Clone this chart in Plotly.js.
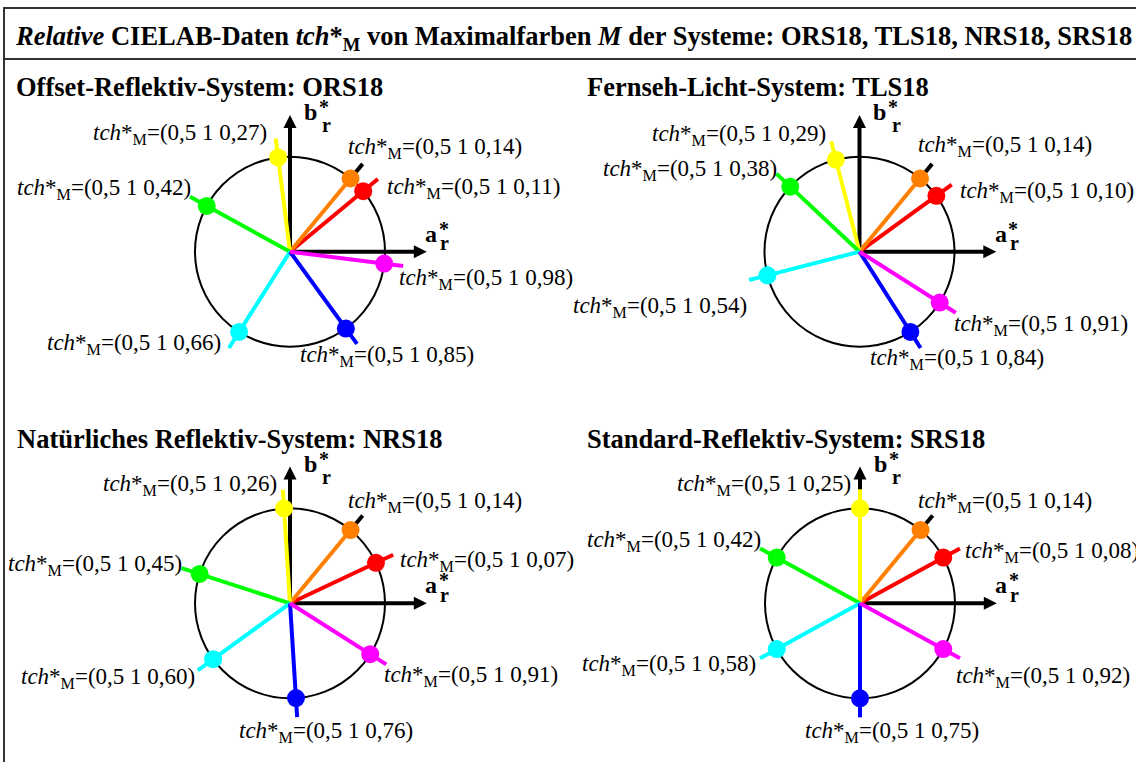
<!DOCTYPE html>
<html><head><meta charset="utf-8">
<script src="https://cdn.plot.ly/plotly-3.0.1.min.js"></script>
<style>html,body{margin:0;padding:0;background:#fff;} #chart{width:1136px;height:762px;}</style>
</head><body><div id="chart"></div>
<script>
// ---------------- data ----------------
const systems = ['ORS18', 'TLS18', 'NRS18', 'SRS18'];
const panelTitles = ['Offset-Reflektiv-System: ORS18', 'Fernseh-Licht-System: TLS18',
                     'Natürliches Reflektiv-System: NRS18', 'Standard-Reflektiv-System: SRS18'];
const colorNames = ['R', 'O', 'Y', 'G', 'C', 'B', 'M'];
const relLightness = 0.5;   // t*
const relChroma = 1;        // c*
const hueORS18 = [0.11, 0.14, 0.27, 0.42, 0.66, 0.85, 0.98];
const hueTLS18 = [0.10, 0.14, 0.29, 0.38, 0.54, 0.84, 0.91];
const hueNRS18 = [0.07, 0.14, 0.26, 0.45, 0.60, 0.76, 0.91];
const hueSRS18 = [0.08, 0.14, 0.25, 0.42, 0.58, 0.75, 0.92];
const hues = [hueORS18, hueTLS18, hueNRS18, hueSRS18];
const mainTitle = '<b><i>Relative</i> CIELAB-Daten <i>tch</i>*<sub>M</sub> von Maximalfarben <i>M</i> der Systeme: ORS18, TLS18, NRS18, SRS18</b>';

// ---------------- styles / layout constants ----------------
const lineColors = ['#ff0000', '#ff8000', '#ffff00', '#00ff00', '#00ffff', '#0000ff', '#ff00ff'];
const tipColors  = [null, '#000000', null, null, null, null, null];
const FONT = 'Liberation Serif';
const W = 1136, H = 762;
const SCALE = 95;                 // px per chroma unit
const LINE_R = 1.2, AXIS_R = 1.44;
const centers = [[290, 251.7], [859.5, 251.7], [290, 603.3], [860, 603.3]];
const boxes = [[8, 566, 98, 420], [570, 1134, 98, 420], [8, 566, 450, 760], [570, 1134, 450, 760]];
const titlePos = [[14, 87.5], [585, 87.5], [15, 438.5], [585, 438.5]];
// label placement relative to line end: [xanchor, dx px, dy px (down)]
const labelPlace = [
  [['left',7,7],['left',-17,-17],['right',-7,-6],['right',3,-9],['right',-6,-5],['left',-59,11],['left',-6,11.5]],
  [['left',6,6],['left',-16,-19],['right',-3,-8],['right',3,-5],['right',0,25],['left',-53,10],['left',-3.5,11]],
  [['left',5,4.5],['left',-17,-15.4],['right',-3.5,-6],['right',2.4,-5],['right',-1,6],['left',-60,13],['left',-4.5,10.6]],
  [['left',3.4,2.4],['left',-17,-15.4],['right',-7,-6],['right',3,-8.4],['right',-2,5],['left',-57,13],['left',-6,17]]
];
const LABEL_SIZE = 23;
const LABEL_DY = 1.5;   // global vertical correction (px, down)

function dec(v, n) { return (n === undefined ? String(v) : v.toFixed(n)).replace('.', ','); }

const traces = [];
const shapes = [];
const annotations = [];
const layout = {
  width: W, height: H, autosize: false,
  margin: {l: 0, r: 0, t: 0, b: 0},
  paper_bgcolor: '#ffffff', plot_bgcolor: 'rgba(0,0,0,0)',
  showlegend: false,
  font: {family: FONT, color: '#000'}
};

hues.forEach((hueArr, p) => {
  const sfx = p === 0 ? '' : String(p + 1);
  const xa = 'x' + sfx, ya = 'y' + sfx;
  const [cx, cy] = centers[p];
  const [x0, x1, y0, y1] = boxes[p];
  layout['xaxis' + sfx] = {domain: [x0 / W, x1 / W], range: [(x0 - cx) / SCALE, (x1 - cx) / SCALE],
    visible: false, fixedrange: true, anchor: ya};
  layout['yaxis' + sfx] = {domain: [1 - y1 / H, 1 - y0 / H], range: [(cy - y1) / SCALE, (cy - y0) / SCALE],
    visible: false, fixedrange: true, anchor: xa};

  // chroma circle c* = 1
  shapes.push({type: 'circle', xref: xa, yref: ya, x0: -relChroma, x1: relChroma, y0: -relChroma, y1: relChroma,
    line: {color: '#000', width: 2}, layer: 'below'});

  // axes a*r, b*r
  const shaft = AXIS_R - 0.06;
  traces.push({type: 'scatter', mode: 'lines', xaxis: xa, yaxis: ya, hoverinfo: 'skip',
    x: [0, shaft, null, 0, 0], y: [0, 0, null, 0, shaft], line: {color: '#000', width: 4}});
  traces.push({type: 'scatter', mode: 'markers', xaxis: xa, yaxis: ya, hoverinfo: 'skip',
    x: [AXIS_R, 0], y: [0, AXIS_R],
    marker: {symbol: ['arrow-right', 'arrow-up'], size: 13, color: '#000', line: {width: 0}}});

  // hue lines
  hueArr.forEach((h, i) => {
    const ang = 2 * Math.PI * h;
    const c = Math.cos(ang), s = Math.sin(ang);
    const rEnd = tipColors[i] ? relChroma : LINE_R;
    traces.push({type: 'scatter', mode: 'lines', xaxis: xa, yaxis: ya, hoverinfo: 'skip',
      x: [0, rEnd * c], y: [0, rEnd * s], line: {color: lineColors[i], width: 4}});
    if (tipColors[i]) {
      traces.push({type: 'scatter', mode: 'lines', xaxis: xa, yaxis: ya, hoverinfo: 'skip',
        x: [relChroma * c, LINE_R * c], y: [relChroma * s, LINE_R * s], line: {color: tipColors[i], width: 4}});
    }
    const [anc, dx, dy] = labelPlace[p][i];
    annotations.push({xref: xa, yref: ya, x: LINE_R * c, y: LINE_R * s, showarrow: false,
      xanchor: anc, yanchor: 'middle', xshift: dx, yshift: -(dy + LABEL_DY),
      text: '<i>tch</i>*<sub>M</sub>=(' + dec(relLightness) + ' ' + dec(relChroma) + ' ' + dec(h, 2) + ')',
      font: {family: FONT, size: LABEL_SIZE, color: '#000'}});
  });

  // maximal colour dots
  traces.push({type: 'scatter', mode: 'markers', xaxis: xa, yaxis: ya, hoverinfo: 'skip',
    x: hueArr.map(h => relChroma * Math.cos(2 * Math.PI * h)),
    y: hueArr.map(h => relChroma * Math.sin(2 * Math.PI * h)),
    marker: {size: 18, color: lineColors, line: {width: 0}}});

  // axis labels
  const axLab = [
    // [text, x, y, xshift, yshift, size]
    ['<b>b</b>', 0, AXIS_R, 11.7, 2.7, 24], ['<b>*</b>', 0, AXIS_R, 26.7, 7.9, 20], ['<b>r</b>', 0, AXIS_R, 30, -10.3, 20],
    ['<b>a</b>', AXIS_R, 0, -3.4, 18, 24], ['<b>*</b>', AXIS_R, 0, 10, 23, 20], ['<b>r</b>', AXIS_R, 0, 11.3, 8.4, 20]
  ];
  axLab.forEach(([t, x, y, xs, ys, sz]) => annotations.push({xref: xa, yref: ya, x: x, y: y, showarrow: false,
    xanchor: 'left', yanchor: 'middle', xshift: xs, yshift: ys, text: t, font: {family: FONT, size: sz, color: '#000'}}));

  // panel title
  annotations.push({xref: 'paper', yref: 'paper', x: titlePos[p][0] / W, y: 1 - titlePos[p][1] / H,
    xanchor: 'left', yanchor: 'middle', showarrow: false, text: '<b>' + panelTitles[p] + '</b>',
    font: {family: FONT, size: 26.5, color: '#000'}});
});

// frame and header
shapes.push({type: 'rect', xref: 'paper', yref: 'paper', x0: 4 / W, x1: 1.01, y0: -0.01, y1: 1 - 8 / H,
  line: {color: '#333', width: 2}, layer: 'above'});
shapes.push({type: 'line', xref: 'paper', yref: 'paper', x0: 4 / W, x1: 1.01, y0: 1 - 59 / H, y1: 1 - 59 / H,
  line: {color: '#333', width: 2}, layer: 'above'});
annotations.push({xref: 'paper', yref: 'paper', x: 13 / W, y: 1 - 38 / H, xanchor: 'left', yanchor: 'middle',
  showarrow: false, text: mainTitle, font: {family: FONT, size: 26.5, color: '#000'}});

layout.shapes = shapes;
layout.annotations = annotations;
Plotly.newPlot('chart', traces, layout, {displayModeBar: false, staticPlot: true});
</script>
</body></html>
